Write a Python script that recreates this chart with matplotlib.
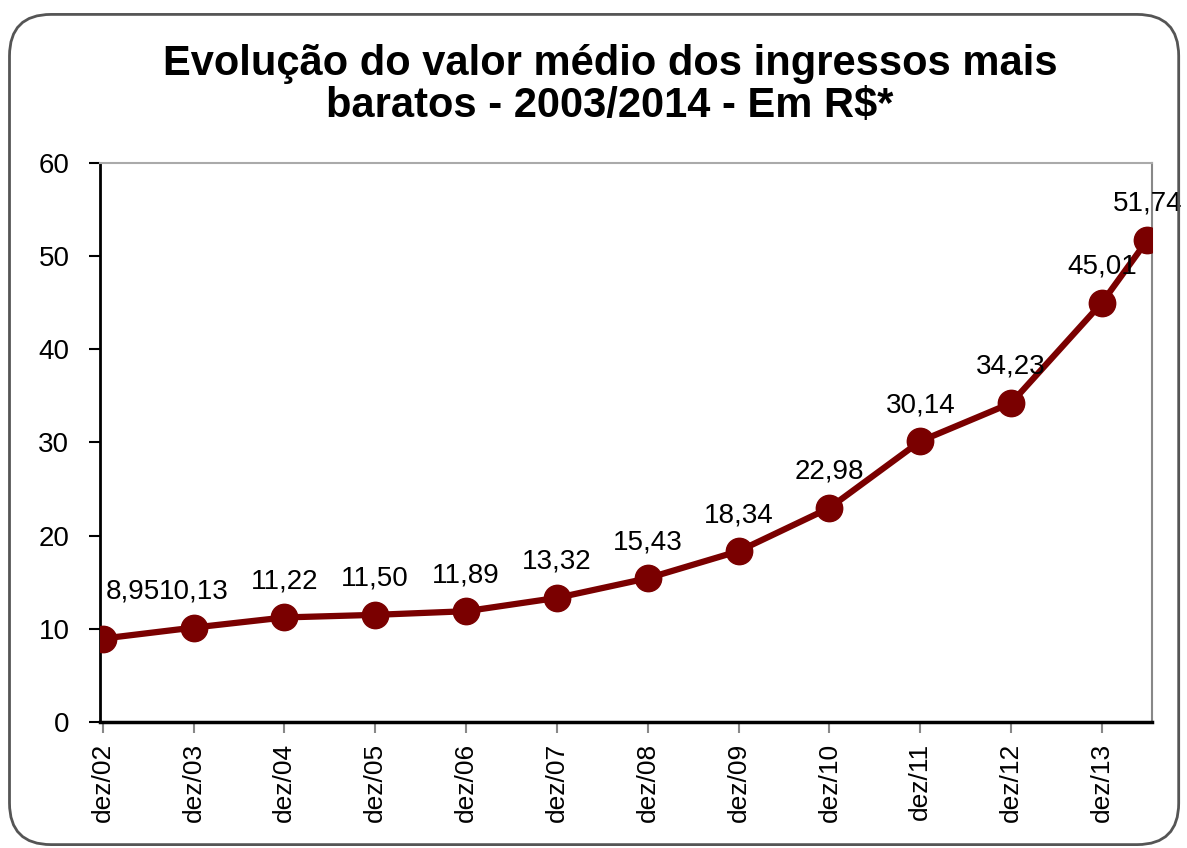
import numpy as np
import pandas as pd
from matplotlib import pyplot as plt
from matplotlib.patches import FancyBboxPatch

plt.rcParams['font.family'] = ['Liberation Sans', 'DejaVu Sans']

# dados: mês de referência e valor médio (R$)
meses = ["2002-12", "2003-12", "2004-12", "2005-12", "2006-12", "2007-12",
         "2008-12", "2009-12", "2010-12", "2011-12", "2012-12", "2013-12", "2014-06"]
valores = [8.95, 10.13, 11.22, 11.50, 11.89, 13.32, 15.43, 18.34, 22.98,
           30.14, 34.23, 45.01, 51.74]
rotulos_x = ["dez/02", "dez/03", "dez/04", "dez/05", "dez/06", "dez/07",
             "dez/08", "dez/09", "dez/10", "dez/11", "dez/12", "dez/13"]
titulo = "Evolução do valor médio dos ingressos mais\nbaratos - 2003/2014 - Em R$*"

datas = pd.to_datetime(meses)
x = (datas.year - datas.year[0]) * 12 + (datas.month - datas.month[0])
x = np.array(x, dtype=float) / 12.0

fig = plt.figure(figsize=(11.87, 8.48), dpi=100)
borda = FancyBboxPatch((0.008, 0.004), 0.985, 0.979, boxstyle="round,pad=0,rounding_size=0.035",
                       transform=fig.transFigure, fill=False, edgecolor='#555555', linewidth=2,
                       mutation_aspect=1187 / 848)
fig.patches.append(borda)

ax = fig.add_axes([0.0842, 0.1486, 0.8863, 0.6592])
cor = '#7a0000'
ax.plot(x, valores, color=cor, lw=4.5, marker='o', markersize=19, zorder=3)

for i, (xi, v) in enumerate(zip(x, valores)):
    txt = f"{v:.2f}".replace('.', ',')
    if i == 0:
        ax.annotate(txt, (xi, v), xytext=(2, 34), textcoords='offset points',
                    ha='left', va='center', fontsize=20)
    else:
        ax.annotate(txt, (xi, v), xytext=(0, 26), textcoords='offset points',
                    ha='center', va='center', fontsize=20)

ax.set_xlim(x[0] - 0.03, x[-1] + 0.05)
ax.set_ylim(0, 60)
ax.set_yticks(range(0, 61, 10))
ax.set_xticks(x[:len(rotulos_x)])
ax.set_xticklabels(rotulos_x, rotation=90)

ax.tick_params(axis='y', direction='out', length=8, width=1.5, pad=14, labelsize=20)
ax.tick_params(axis='x', direction='out', length=8, width=1.5, color='#888888', pad=7, labelsize=19)
ax.spines['left'].set_linewidth(2)
ax.spines['bottom'].set_linewidth(2.5)
ax.spines['top'].set_color('#aaaaaa')
ax.spines['right'].set_color('#888888')
ax.spines['top'].set_linewidth(1.5)
ax.spines['right'].set_linewidth(1.5)

fig.text(0.514, 0.9, titulo, ha='center', va='center', fontsize=30,
         fontweight='bold', linespacing=1.08)

fig.savefig("out.png", dpi=100)
